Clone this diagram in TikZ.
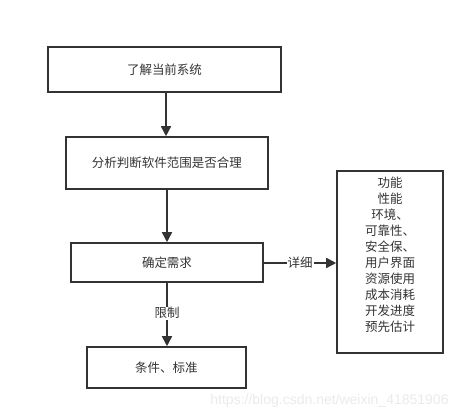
\documentclass[tikz,border=0pt]{standalone}
\usepackage{fontspec}
\setmainfont{Noto Sans CJK SC}
\newfontfamily\wmfont{Liberation Sans}
\usetikzlibrary{arrows.meta}
\definecolor{ink}{HTML}{333333}
\definecolor{wmgray}{HTML}{EAEAEA}
\begin{document}
\begin{tikzpicture}[x=1pt,y=-1pt,
  box/.style={draw=ink, line width=1.6pt, inner sep=0pt, font=\fontsize{12.5}{14}\selectfont, text=ink},
  conn/.style={draw=ink, line width=1.6pt, -{Triangle[length=10pt,width=10pt]}},
  lbl/.style={fill=white, inner sep=1pt, font=\fontsize{12.5}{14}\selectfont, text=ink}
]
\useasboundingbox (0,0) rectangle (475,420);
\node[box, minimum width=233pt, minimum height=45pt] (b1) at (164.5,69.5) {了解当前系统};
\node[box, minimum width=202pt, minimum height=52pt] (b2) at (167,163) {分析判断软件范围是否合理};
\node[box, minimum width=192pt, minimum height=39pt] (b3) at (167,262.5) {确定需求};
\node[box, minimum width=106pt, minimum height=182pt] (b4) at (390,262) {};
\node[align=center, font=\fontsize{12.5}{16}\selectfont, text=ink, anchor=north, inner sep=0pt] (t4) at (390,177)
  {功能\\性能\\环境、\\可靠性、\\安全保、\\用户界面\\资源使用\\成本消耗\\开发进度\\预先估计};
\node[box, minimum width=159pt, minimum height=41pt] (b5) at (166.5,367.5) {条件、标准};
\draw[conn] (b1.south -| 166,0) -- (b2.north -| 166,0);
\draw[conn] (b2.south -| 167,0) -- (b3.north -| 167,0);
\draw[conn] (b3.east |- 0,263) -- node[lbl] (l1) {详细} (b4.west |- 0,263);
\draw[conn] (b3.south -| 167,0) -- node[lbl, pos=0.48] (l2) {限制} (b5.north -| 167,0);
\node[font=\wmfont\fontsize{14}{16}\selectfont, text=wmgray, inner sep=0pt] (wm) at (329.5,401) {https://blog.csdn.net/weixin\_41851906};
\end{tikzpicture}
\end{document}
